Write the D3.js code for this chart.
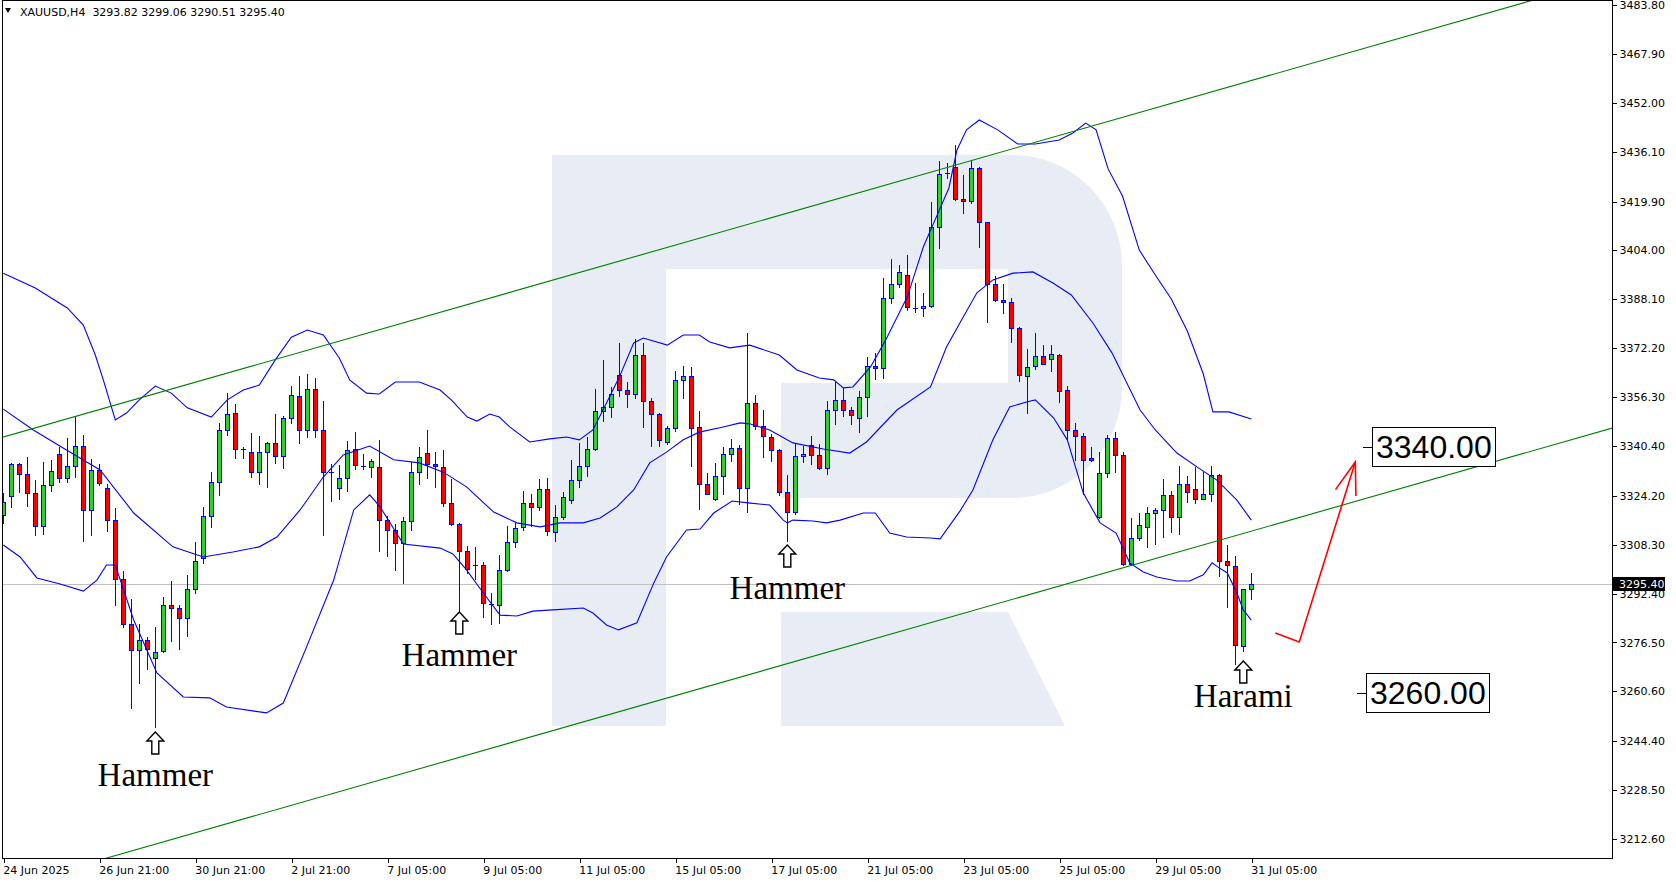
<!DOCTYPE html>
<html><head><meta charset="utf-8">
<script src="https://cdn.jsdelivr.net/npm/d3@7"></script>
<style>html,body{margin:0;padding:0;background:#fff;}svg{display:block;}</style>
</head><body>
<svg id="chart" width="1676" height="882"></svg>
<script>
// ---------------- data ----------------
const symbolTitle = "XAUUSD,H4";
const lastQuote = [3293.82, 3299.06, 3290.51, 3295.40];
const currentPrice = 3295.40;

const opens = [3318.0,3324.0,3334.4,3331.2,3325.0,3314.4,3327.6,3337.7,3329.9,3333.8,3340.3,3319.5,3332.5,3326.6,3316.2,3297.0,3282.4,3273.9,3277.2,3271.4,3273.6,3288.6,3287.6,3284.4,3293.8,3303.9,3317.5,3328.6,3345.5,3351.0,3339.3,3338.3,3331.8,3338.3,3341.3,3337.0,3349.4,3356.5,3345.5,3358.8,3345.5,3331.8,3326.6,3329.9,3339.3,3334.0,3333.5,3333.5,3316.2,3313.0,3308.8,3315.9,3331.8,3338.0,3334.4,3333.7,3321.8,3314.9,3306.2,3301.7,3301.6,3289.1,3288.6,3300.1,3309.1,3313.9,3321.8,3320.7,3326.3,3312.3,3317.2,3322.7,3329.2,3333.8,3339.4,3351.8,3353.0,3363.5,3358.5,3357.2,3370.0,3354.9,3350.7,3341.6,3346.1,3361.8,3363.1,3346.5,3327.9,3323.0,3330.6,3337.8,3339.8,3326.6,3354.3,3347.0,3343.4,3339.1,3325.3,3318.8,3337.0,3340.6,3337.4,3333.1,3352.0,3355.2,3352.0,3349.4,3356.2,3366.4,3365.7,3388.4,3393.0,3395.9,3385.4,3385.2,3385.8,3411.7,3428.9,3431.2,3420.6,3420.0,3430.7,3413.1,3393.0,3387.8,3387.1,3378.7,3363.1,3366.4,3369.5,3368.6,3369.9,3358.5,3345.5,3343.5,3336.4,3317.2,3331.5,3342.9,3337.4,3301.9,3310.4,3314.2,3318.5,3319.5,3324.4,3317.2,3327.9,3326.3,3323.1,3324.7,3330.9,3302.9,3301.3,3275.4,3293.82];
const highs = [3325.0,3334.8,3335.0,3336.7,3329.4,3335.1,3335.8,3340.2,3342.9,3350.2,3344.0,3336.2,3334.5,3327.9,3320.1,3299.8,3290.6,3282.5,3278.2,3281.5,3291.2,3296.5,3288.6,3298.4,3309.3,3320.6,3331.8,3347.8,3357.5,3354.1,3340.2,3344.5,3343.7,3341.8,3350.8,3350.2,3359.9,3363.2,3363.8,3362.5,3355.0,3334.4,3334.1,3341.9,3344.8,3337.7,3336.2,3342.4,3317.5,3314.9,3317.2,3335.1,3340.0,3345.6,3338.6,3339.1,3329.7,3315.5,3307.9,3307.7,3302.8,3292.7,3305.0,3314.4,3315.5,3325.9,3324.8,3329.7,3330.1,3321.3,3325.6,3335.8,3341.3,3343.4,3358.9,3368.4,3359.5,3373.8,3361.1,3375.1,3374.0,3355.9,3351.0,3346.9,3364.8,3366.4,3366.2,3351.8,3331.5,3334.8,3340.0,3342.7,3340.7,3377.0,3356.9,3352.0,3344.2,3339.5,3330.9,3341.0,3340.4,3343.7,3340.9,3355.0,3361.3,3359.2,3353.0,3358.3,3369.4,3370.5,3394.9,3401.2,3399.2,3402.5,3393.3,3390.0,3419.9,3433.1,3432.3,3438.3,3428.5,3433.4,3431.2,3413.3,3395.7,3393.1,3388.4,3379.2,3371.9,3377.3,3373.3,3373.3,3370.3,3359.9,3347.8,3344.5,3340.2,3338.3,3344.0,3344.8,3338.3,3316.9,3318.5,3320.7,3320.1,3329.6,3325.9,3333.9,3330.6,3333.5,3332.0,3333.9,3331.2,3308.2,3304.6,3293.8,3299.06];
const lows = [3315.3,3320.7,3325.6,3321.0,3311.5,3311.8,3325.9,3328.8,3328.8,3330.4,3309.6,3311.6,3327.6,3312.9,3288.7,3281.4,3255.3,3263.4,3268.0,3249.0,3273.3,3277.1,3274.3,3278.7,3292.5,3302.2,3314.2,3324.5,3344.0,3336.6,3336.4,3330.4,3328.1,3327.2,3334.8,3333.3,3348.0,3341.5,3343.4,3343.4,3311.4,3322.6,3323.3,3325.9,3333.0,3332.8,3330.4,3306.4,3304.7,3300.2,3296.0,3313.0,3328.2,3330.0,3327.0,3320.9,3314.7,3286.7,3299.0,3297.0,3284.9,3282.4,3283.0,3299.9,3307.7,3313.1,3314.5,3319.6,3311.5,3309.6,3316.6,3321.8,3327.0,3330.7,3339.1,3348.6,3349.9,3356.8,3353.2,3355.9,3346.7,3340.5,3340.5,3340.9,3345.4,3356.0,3333.9,3319.8,3324.7,3322.8,3324.7,3335.5,3321.5,3319.0,3345.9,3336.9,3335.6,3324.5,3309.6,3318.2,3335.3,3334.4,3333.0,3331.3,3347.4,3350.2,3347.4,3344.8,3350.3,3362.3,3362.4,3386.8,3392.2,3384.6,3384.1,3382.8,3385.5,3404.7,3427.4,3420.5,3416.1,3419.3,3405.0,3380.8,3387.4,3383.5,3374.1,3361.6,3351.0,3365.3,3366.9,3364.9,3354.8,3342.7,3335.8,3324.8,3335.6,3317.0,3330.2,3332.1,3301.7,3301.7,3309.8,3307.7,3308.5,3310.7,3312.5,3311.7,3322.3,3321.8,3323.0,3322.6,3298.2,3288.1,3269.5,3273.8,3290.51];
const closes = [3322.3,3334.4,3331.2,3325.0,3314.4,3327.6,3332.2,3329.9,3333.8,3340.3,3319.5,3332.5,3328.3,3316.2,3297.0,3282.4,3273.9,3277.2,3274.3,3273.5,3288.6,3287.6,3284.6,3293.8,3302.9,3317.5,3328.6,3345.5,3350.7,3339.3,3339.1,3331.8,3338.3,3341.3,3337.0,3349.4,3356.9,3345.5,3358.8,3345.5,3331.8,3331.6,3329.9,3339.0,3334.1,3333.6,3335.4,3316.2,3313.0,3308.8,3315.9,3331.8,3336.9,3334.4,3333.9,3321.8,3315.0,3306.2,3300.3,3301.6,3289.2,3289.0,3300.1,3309.1,3313.6,3321.8,3320.7,3326.3,3312.6,3317.2,3323.7,3329.2,3333.8,3339.4,3351.8,3353.0,3357.2,3358.5,3357.2,3370.0,3354.9,3350.7,3342.3,3346.1,3361.8,3363.1,3346.1,3327.9,3324.8,3330.6,3337.7,3339.8,3326.6,3354.3,3347.0,3343.6,3339.1,3325.3,3318.8,3337.0,3337.7,3337.4,3333.1,3352.0,3355.2,3352.0,3350.4,3356.2,3366.4,3365.6,3388.4,3393.0,3396.9,3385.5,3385.1,3385.8,3411.7,3428.7,3429.3,3420.6,3420.0,3430.7,3413.2,3393.0,3387.8,3387.1,3378.7,3363.4,3366.2,3369.5,3367.0,3370.2,3358.2,3345.5,3343.5,3335.7,3335.7,3331.5,3342.9,3337.4,3301.9,3310.4,3314.6,3318.5,3319.5,3324.4,3317.2,3327.9,3325.3,3323.1,3324.7,3330.9,3302.9,3301.6,3275.6,3293.8,3295.40];

// Bollinger bands (bar index, price)
const bbUpperIdx = [0,4,8,10,11.5,12.5,14,15.4,17,19,21,23,26,28,30,32,34,36,38,40,42,43.3,45.4,47,49,52,54.6,56,58,59.2,60.8,62,63.3,65.8,68.3,70.4,72,73.7,75.4,77,78.8,80,83,85,87,88.3,90.8,93.3,97,99.2,102,103.8,105,106.2,108.4,110.3,113,115,117,118.2,119.2,120.4,122,124.3,126.8,129,132,133.7,135.3,136.6,138.1,139.9,142,144,146,148,150,151.2,153.2,156];
const bbUpper = [3396.6,3391.8,3385.3,3379.7,3370.0,3361.9,3348.9,3351.1,3355.4,3359.9,3357.6,3352.8,3349.8,3355.4,3358.6,3360.2,3368.4,3375.8,3378.1,3376.5,3369.0,3361.9,3357.6,3357.3,3361.2,3361.2,3358.6,3355.4,3349.8,3348.5,3350.8,3349.8,3346.6,3341.7,3342.7,3343.3,3342.4,3345.6,3354.4,3362.8,3373.9,3375.5,3373.2,3376.5,3376.5,3374.2,3372.3,3373.2,3370.0,3365.1,3362.5,3361.9,3359.3,3359.6,3366.1,3374.9,3388.9,3405.1,3417.1,3424.3,3436.6,3443.2,3446.4,3443.2,3438.6,3438.6,3439.9,3442.2,3445.4,3443.2,3430.5,3421.7,3404.1,3396.0,3388.2,3377.8,3363.8,3351.5,3351.5,3349.2];
const bbMiddleIdx = [0,3.75,7.9,12.1,16.3,21.2,25,28.7,32,34.2,37.1,40,42.5,45.8,48.8,52,55,57.9,61.3,64.2,67.1,69.6,72.5,74.6,76.7,78.8,80.8,82.9,85,87,90,92.1,93.3,95.8,98.7,102.5,105.8,107.9,111.7,115.9,117.9,119.5,121.7,123.7,126.2,128.7,131.2,133.5,136.2,138.6,142.1,144,146.7,149.2,151.7,154.2,156];
const bbMiddle = [3352.4,3345.6,3339.1,3332.6,3318.6,3307.6,3304.3,3305.9,3307.6,3310.8,3319.6,3330.3,3337.5,3340.4,3335.9,3334.9,3331.9,3327.1,3318.9,3315.4,3314.1,3315.4,3315.4,3317.0,3320.6,3326.1,3334.9,3338.4,3342.4,3344.9,3346.6,3347.9,3347.6,3345.6,3341.4,3339.4,3338.1,3341.7,3352.1,3359.6,3372.6,3380.1,3390.2,3394.4,3396.6,3397.0,3393.4,3389.5,3380.4,3370.6,3352.1,3345.6,3338.1,3333.6,3329.3,3322.8,3316.3];
const bbLowerIdx = [0,2.1,4.2,7.1,10,11.7,12.9,14,16.3,19.2,22.5,25.8,27.9,32.9,35,37.9,41.3,43.8,45.8,47.1,50,54.6,56.2,57.9,60,62.1,64.2,66.2,68.7,72.5,73.7,75.4,76.9,79.2,81.3,82.9,85.4,87.1,88.8,91.1,93.1,95.8,97.5,98,98.7,101.2,102.9,104.6,107.5,109,110.8,112.9,115.9,117.1,119.6,121.2,123.7,125.8,127.9,129,131.3,133,135,137.1,139.1,140.8,142.5,144.2,146.7,148.3,150,151.1,151.8,153,154.2,155,156];
const bbLower = [3308.2,3304.3,3297.5,3295.5,3293.2,3296.8,3301.7,3301.7,3283.8,3266.6,3258.8,3258.5,3255.5,3253.6,3256.8,3275.0,3296.8,3319.6,3324.5,3320.6,3308.5,3307.2,3305.3,3300.1,3292.6,3285.4,3285.1,3286.7,3287.1,3287.7,3286.1,3282.2,3280.6,3282.9,3295.8,3304.3,3313.1,3313.4,3318.6,3322.5,3321.9,3321.2,3316.3,3315.4,3316.3,3316.0,3315.4,3316.3,3318.6,3318.6,3312.1,3310.8,3310.5,3310.2,3319.3,3326.1,3342.4,3353.1,3354.7,3355.4,3349.5,3342.4,3325.1,3315.4,3312.1,3302.4,3299.4,3297.8,3296.5,3296.5,3298.5,3302.4,3301.1,3299.1,3292.6,3287.1,3283.8];

// Trend channel (two anchor points each: bar index, price)
const channelUpperBars = [0, 190];
const channelUpperPrices = [3343.3, 3484.5];
const channelLowerBars = [0, 200];
const channelLowerPrices = [3196.8, 3345.4];

// Axis ticks
const yTickValues = [3483.80,3467.90,3452.00,3436.10,3419.90,3404.00,3388.10,3372.20,3356.30,3340.40,3324.20,3308.30,3292.40,3276.50,3260.60,3244.40,3228.50,3212.60];
const xTickBars = [0,12,24,36,48,60,72,84,96,108,120,132,144,156];
const xTickLabels = ["24 Jun 2025","26 Jun 21:00","30 Jun 21:00","2 Jul 21:00","7 Jul 05:00","9 Jul 05:00","11 Jul 05:00","15 Jul 05:00","17 Jul 05:00","21 Jul 05:00","23 Jul 05:00","25 Jul 05:00","29 Jul 05:00","31 Jul 05:00"];

// Pattern annotations
const annoBars = [19, 57, 98, 155];
const annoArrowPrices = [3247.4, 3286.4, 3308.2, 3270.5];
const annoTextPrices = [3229.8, 3268.9, 3290.6, 3255.5];
const annoLabels = ["Hammer", "Hammer", "Hammer", "Harami"];

// Forecast path and targets
const forecastBars = [159.0, 162.0, 169.0];
const forecastPrices = [3279.6, 3276.7, 3335.2];
const targetPrices = [3340.00, 3260.00];
const targetBars = [171.1, 170.3];

// ---------------- drawing ----------------
const svg = d3.select('#chart');
const plot = {left: 2, right: 1612, top: 0, bottom: 858};
const x = d3.scaleLinear().domain([0, 156]).range([3.3, 1251.3]);
const y = d3.scaleLinear().domain([3212.6, 3483.8]).range([839, 5]);
const FONT = "'DejaVu Sans', Verdana, sans-serif";

svg.append('defs').append('clipPath').attr('id', 'plotClip')
  .append('rect').attr('x', plot.left).attr('y', plot.top)
  .attr('width', plot.right - plot.left).attr('height', plot.bottom - plot.top);

// watermark logo (background decoration)
const wm = svg.append('g').attr('fill', '#e8edf5');
wm.append('rect').attr('x', 552).attr('y', 155).attr('width', 114).attr('height', 571);
wm.append('path').attr('d', 'M666,155 H1012 A110,110 0 0 1 1122,265 V388 A110,110 0 0 1 1012,498 H781 V383 H1008 V269 H666 Z');
wm.append('path').attr('d', 'M781,612 H1008 L1065,726 H781 Z');

const plotG = svg.append('g').attr('clip-path', 'url(#plotClip)');

// current price line
plotG.append('line').attr('x1', plot.left).attr('x2', plot.right)
  .attr('y1', Math.round(y(currentPrice)) + 0.5).attr('y2', Math.round(y(currentPrice)) + 0.5)
  .attr('stroke', '#c0c0c0').attr('stroke-width', 1).attr('shape-rendering', 'crispEdges');

// candles
const bars = opens.map((o, i) => ({i, o, h: highs[i], l: lows[i], c: closes[i]}));
const cg = plotG.append('g').attr('shape-rendering', 'crispEdges');
const candle = cg.selectAll('g.c').data(bars).join('g').attr('class', 'c');
candle.append('line')
  .attr('x1', d => Math.round(x(d.i)) + 0.5).attr('x2', d => Math.round(x(d.i)) + 0.5)
  .attr('y1', d => Math.round(y(d.h))).attr('y2', d => Math.round(y(d.l)) + 1)
  .attr('stroke', '#0000ff');
candle.each(function(d) {
  const g = d3.select(this);
  const cx = Math.round(x(d.i));
  const top = Math.round(y(Math.max(d.o, d.c)));
  const bot = Math.round(y(Math.min(d.o, d.c)));
  if (bot - top < 2) {
    g.append('line').attr('x1', cx - 2).attr('x2', cx + 3)
      .attr('y1', top + 0.5).attr('y2', top + 0.5).attr('stroke', '#0000ff');
  } else {
    g.append('rect').attr('x', cx - 1.5).attr('y', top + 0.5)
      .attr('width', 4).attr('height', bot - top)
      .attr('fill', d.c >= d.o ? '#32cd32' : '#ff0000')
      .attr('stroke', '#0000ff').attr('stroke-width', 1);
  }
});

// Bollinger bands
const bandLine = d3.line().x(d => x(d[0])).y(d => y(d[1]));
[[bbUpperIdx, bbUpper], [bbMiddleIdx, bbMiddle], [bbLowerIdx, bbLower]].forEach(([idx, vals]) => {
  plotG.append('path').datum(idx.map((b, k) => [b, vals[k]]))
    .attr('d', bandLine).attr('fill', 'none').attr('stroke', '#0000ff').attr('stroke-width', 1.1);
});

// channel lines
[[channelUpperBars, channelUpperPrices], [channelLowerBars, channelLowerPrices]].forEach(([b, p]) => {
  const x0 = x(b[0]), x1 = x(b[1]), y0 = y(p[0]), y1 = y(p[1]);
  const slope = (y1 - y0) / (x1 - x0);
  const xa = plot.left - 10, xb = plot.right + 10;
  plotG.append('line').attr('x1', xa).attr('y1', y0 + slope * (xa - x0))
    .attr('x2', xb).attr('y2', y0 + slope * (xb - x0))
    .attr('stroke', '#008000').attr('stroke-width', 1.1);
});

// forecast arrow
const fpts = forecastBars.map((b, k) => [x(b), y(forecastPrices[k])]);
plotG.append('path').attr('d', d3.line()(fpts)).attr('fill', 'none').attr('stroke', '#ff0000').attr('stroke-width', 1.6);
{
  const [tx, ty] = fpts[2], [px, py] = fpts[1];
  const ang = Math.atan2(ty - py, tx - px);
  const L = 34, spread = 0.32;
  const headPts = [[tx - L * Math.cos(ang - spread), ty - L * Math.sin(ang - spread)], [tx, ty], [tx - L * Math.cos(ang + spread), ty - L * Math.sin(ang + spread)]];
  plotG.append('path').attr('d', d3.line()(headPts)).attr('fill', 'none').attr('stroke', '#ff0000').attr('stroke-width', 1.6);
}

// target boxes
targetPrices.forEach((p, k) => {
  const bx = Math.round(x(targetBars[k])), by = Math.round(y(p));
  const g = plotG.append('g');
  g.append('line').attr('x1', bx - 9).attr('x2', bx).attr('y1', by + 0.5).attr('y2', by + 0.5).attr('stroke', '#000').attr('shape-rendering', 'crispEdges');
  const t = g.append('text').attr('x', bx + 4).attr('y', by + 11).text(d3.format('.2f')(p))
    .attr('font-family', "'Liberation Sans', Arial, sans-serif").attr('font-size', 32).attr('fill', '#000');
  const bb = t.node().getBBox();
  g.insert('rect', 'text').attr('x', bx + 0.5).attr('y', by - 19.5).attr('width', Math.round(bb.width) + 7).attr('height', 39)
    .attr('fill', '#fff').attr('stroke', '#000').attr('stroke-width', 1).attr('shape-rendering', 'crispEdges');
});

// annotations
const arrowShape = [[0,0],[8.5,9],[3.5,9],[3.5,22],[-3.5,22],[-3.5,9],[-8.5,9]];
annoBars.forEach((b, k) => {
  const ax = x(b), ay = y(annoArrowPrices[k]);
  svg.append('path').attr('d', d3.line()(arrowShape.map(([dx, dy]) => [ax + dx, ay + dy])) + 'Z')
    .attr('fill', '#fff').attr('stroke', '#000').attr('stroke-width', 1.4).attr('stroke-linejoin', 'miter');
  svg.append('text').attr('x', ax).attr('y', y(annoTextPrices[k])).attr('text-anchor', 'middle')
    .attr('font-family', "'Liberation Serif', 'Times New Roman', serif").attr('font-size', 33).attr('fill', '#000')
    .text(annoLabels[k]);
});

// frame
svg.append('rect').attr('x', plot.left + 0.5).attr('y', plot.top + 0.5)
  .attr('width', plot.right - plot.left).attr('height', plot.bottom - plot.top)
  .attr('fill', 'none').attr('stroke', '#000').attr('shape-rendering', 'crispEdges');

// right price axis
const yAxis = d3.axisRight(y).tickValues(yTickValues).tickFormat(d3.format('.2f')).tickSize(4).tickPadding(3);
const yg = svg.append('g').attr('transform', `translate(${plot.right + 0.5},0)`).call(yAxis);
yg.select('.domain').remove();
yg.selectAll('line').attr('stroke', '#000').attr('shape-rendering', 'crispEdges');
yg.selectAll('text').attr('font-family', FONT).attr('font-size', 11).attr('fill', '#000');

// current price badge
{
  const py = Math.round(y(currentPrice));
  svg.append('rect').attr('x', plot.right + 1).attr('y', py - 7).attr('width', 52).attr('height', 14).attr('fill', '#000');
  svg.append('text').attr('x', plot.right + 7).attr('y', py + 4).text(d3.format('.2f')(currentPrice))
    .attr('font-family', FONT).attr('font-size', 11).attr('fill', '#fff');
}

// bottom time axis
const xAxis = d3.axisBottom(x).tickValues(xTickBars).tickFormat((d, k) => xTickLabels[k]).tickSize(4).tickPadding(4);
const xg = svg.append('g').attr('transform', `translate(0.5,${plot.bottom + 0.5})`).call(xAxis);
xg.select('.domain').remove();
xg.selectAll('line').attr('stroke', '#000').attr('shape-rendering', 'crispEdges');
xg.selectAll('text').attr('font-family', FONT).attr('font-size', 11).attr('fill', '#000')
  .attr('text-anchor', 'start').attr('dx', '-1');

// header
svg.append('path').attr('d', 'M5,8 L11,8 L8,13 Z').attr('fill', '#000');
svg.append('text').attr('x', 20).attr('y', 16).attr('xml:space', 'preserve').style('white-space', 'pre')
  .attr('font-family', FONT).attr('font-size', 11).attr('fill', '#000')
  .text(symbolTitle + '  ' + lastQuote.map(d3.format('.2f')).join(' '));
</script>
</body></html>
